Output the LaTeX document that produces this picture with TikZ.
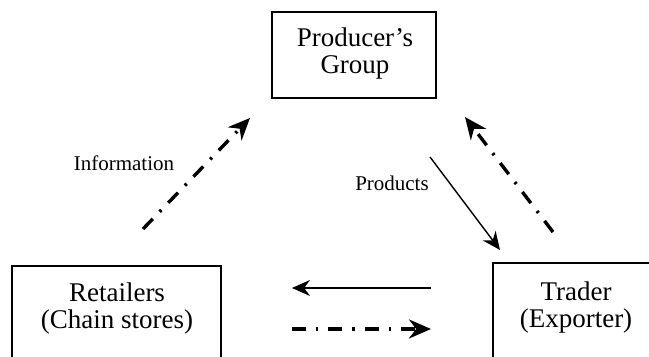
\documentclass[tikz,border=0pt]{standalone}
\usepackage{fontspec}
\setmainfont{Liberation Serif}
\usetikzlibrary{arrows.meta, positioning}

\tikzset{
  box/.style={draw, line width=0.8pt, inner sep=0pt},
  boxtext/.style={font=\fontsize{13.5}{13.5}\selectfont, align=center, inner sep=0pt},
  lbl/.style={font=\fontsize{10.5}{12}\selectfont, inner sep=0pt},
  flow/.style={-{Stealth[length=9pt, width=8pt]}, line width=0.7pt},
  info/.style={-{Stealth[length=11pt, width=9.5pt]}, line width=1.7pt,
    dash pattern=on 7pt off 5pt on 1.2pt off 5pt}
}

\begin{document}
\begin{tikzpicture}[x=0.5pt, y=-0.5pt]
  \useasboundingbox (0,0) rectangle (649,357);
  \clip (0,0) rectangle (649,357);
  % Boxes
  \node[box, minimum width=82pt, minimum height=43pt] (producer) at (354,55) {};
  \node[boxtext] (producertext) at (355,54) {Producer's\\Group};
  \node[box, minimum width=104.5pt, minimum height=57pt] (retailers) at (116.5,323) {};
  \node[boxtext] (retailerstext) at (117,309) {Retailers\\(Chain stores)};
  \node[box, minimum width=83pt, minimum height=58pt] (trader) at (576,321) {};
  \node[boxtext] (tradertext) at (576,308) {Trader\\(Exporter)};
  % Labels
  \node[lbl] (infolabel) at (124,163) {Information};
  \node[lbl] (prodlabel) at (392,183) {Products};
  % Arrow ends
  \coordinate (infoA) at (143,229);
  \coordinate (infoB) at (250,118);
  \coordinate (prodA) at (430,157);
  \coordinate (prodB) at (500,250);
  \coordinate (backA) at (553,232);
  \coordinate (backB) at (465,117);
  \coordinate (leftA) at (431,288);
  \coordinate (leftB) at (292,288);
  \coordinate (rightA) at (292,329);
  \coordinate (rightB) at (431,329);
  % Information flows (dash-dot)
  \draw[info] (infoA) -- (infoB);
  \draw[info] (backA) -- (backB);
  \draw[info] (rightA) -- (rightB);
  % Product flows (solid)
  \draw[flow] (prodA) -- (prodB);
  \draw[flow] (leftA) -- (leftB);
\end{tikzpicture}
\end{document}
